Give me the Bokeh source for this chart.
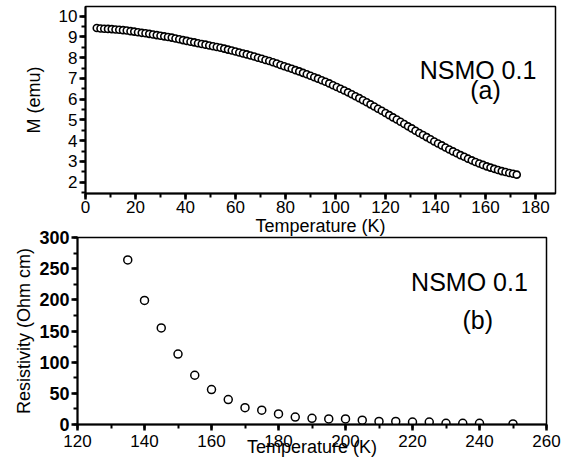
from bokeh.plotting import figure
from bokeh.models import Range1d, SingleIntervalTicker, Label
from bokeh.embed import file_html
from bokeh.resources import INLINE

# ---- panel (a): magnetisation vs temperature ----
temp_a = [4.5, 6, 7.5, 9, 10.5, 12, 13.5, 15, 16.5, 18, 19.5, 21, 22.5, 24, 25.5, 27, 28.5, 30,
          31.5, 33, 34.5, 36, 37.5, 39, 40.5, 42, 43.5, 45, 46.5, 48, 49.5, 51, 52.5, 54, 55.5,
          57, 58.5, 60, 61.5, 63, 64.5, 66, 67.5, 69, 70.5, 72, 73.5, 75, 76.5, 78, 79.5, 81,
          82.5, 84, 85.5, 87, 88.5, 90, 91.5, 93, 94.5, 96, 97.5, 99, 100.5, 102, 103.5, 105,
          106.5, 108, 109.5, 111, 112.5, 114, 115.5, 117, 118.5, 120, 121.5, 123, 124.5, 126,
          127.5, 129, 130.5, 132, 133.5, 135, 136.5, 138, 139.5, 141, 142.5, 144, 145.5, 147,
          148.5, 150, 151.5, 153, 154.5, 156, 157.5, 159, 160.5, 162, 163.5, 165, 166.5, 168,
          169.5, 171, 172.5]
mag_a = [9.43, 9.41, 9.40, 9.39, 9.38, 9.36, 9.35, 9.33, 9.31, 9.28, 9.26, 9.23, 9.20, 9.18,
         9.15, 9.12, 9.09, 9.06, 9.03, 9.00, 8.97, 8.93, 8.89, 8.85, 8.81, 8.77, 8.74, 8.70,
         8.66, 8.63, 8.59, 8.55, 8.52, 8.48, 8.44, 8.39, 8.35, 8.30, 8.25, 8.20, 8.16, 8.11,
         8.06, 8.00, 7.95, 7.89, 7.84, 7.78, 7.72, 7.65, 7.59, 7.53, 7.47, 7.40, 7.34, 7.27,
         7.20, 7.13, 7.06, 6.99, 6.91, 6.84, 6.76, 6.67, 6.59, 6.50, 6.42, 6.33, 6.24, 6.14,
         6.05, 5.95, 5.85, 5.75, 5.65, 5.54, 5.44, 5.33, 5.23, 5.12, 5.02, 4.91, 4.80, 4.69,
         4.59, 4.48, 4.37, 4.27, 4.17, 4.07, 3.96, 3.86, 3.77, 3.67, 3.57, 3.48, 3.39, 3.30,
         3.22, 3.13, 3.05, 2.97, 2.90, 2.83, 2.76, 2.70, 2.64, 2.58, 2.53, 2.49, 2.44, 2.40,
         2.36]

# ---- panel (b): resistivity vs temperature ----
temp_b = [135, 140, 145, 150, 155, 160, 165, 170, 175, 180, 185, 190, 195, 200, 205, 210,
          215, 220, 225, 230, 235, 240, 250]
res_b = [264, 199, 155, 113, 79, 56, 40, 27, 23, 17, 12, 10, 9, 9, 7, 5, 5, 4, 4, 2, 2, 2, 1]

label_main = "NSMO 0.1"
label_a = "(a)"
label_b = "(b)"
xlabel = "Temperature (K)"
ylabel_a = "M (emu)"
ylabel_b = "Resistivity (Ohm cm)"

FONT = "Liberation Sans"


def style(p, xint, yint, ylab_bold):
    p.grid.visible = False
    p.outline_line_color = "black"
    p.outline_line_width = 1.5
    p.outline_line_alpha = 1.0
    p.background_fill_color = "white"
    for ax in (p.xaxis[0], p.yaxis[0]):
        ax.axis_line_width = 2
        ax.axis_line_color = "black"
        ax.major_tick_line_width = 2.5
        ax.major_tick_line_color = "black"
        ax.minor_tick_line_width = 2
        ax.minor_tick_line_color = "black"
        ax.major_tick_out = 6
        ax.major_tick_in = 0
        ax.minor_tick_out = 4
        ax.minor_tick_in = 0
        ax.major_label_text_font = FONT
        ax.major_label_text_font_size = "17px"
        ax.major_label_text_color = "black"
        ax.axis_label_text_font = FONT
        ax.axis_label_text_font_size = "18px"
        ax.axis_label_text_font_style = "normal"
        ax.axis_label_text_color = "black"
    p.xaxis[0].ticker = SingleIntervalTicker(interval=xint, num_minor_ticks=2)
    p.yaxis[0].ticker = SingleIntervalTicker(interval=yint, num_minor_ticks=2)
    if ylab_bold:
        p.yaxis[0].major_label_text_font_style = "bold"
        p.yaxis[0].major_label_text_font_size = "18px"


p1 = figure(width=565, height=238, output_backend="svg", toolbar_location=None,
            x_range=Range1d(0, 188), y_range=Range1d(1.45, 10.47),
            min_border_left=85, min_border_right=10, min_border_top=6, min_border_bottom=10)
style(p1, 20, 1, False)
p1.border_fill_color = "white"
p1.xaxis[0].axis_label = xlabel
p1.yaxis[0].axis_label = ylabel_a
p1.xaxis[0].major_label_standoff = 1
p1.xaxis[0].axis_label_standoff = 0
p1.yaxis[0].major_label_standoff = 2
p1.yaxis[0].axis_label_standoff = 12
p1.scatter(temp_a, mag_a, marker="circle", size=7, fill_color="white",
           line_color="black", line_width=1.6)
p1.add_layout(Label(x=157, y=7.4, text=label_main, text_align="center", text_baseline="middle",
                    text_font=FONT, text_font_size="25px", text_color="black"))
p1.add_layout(Label(x=160, y=6.45, text=label_a, text_align="center", text_baseline="middle",
                    text_font=FONT, text_font_size="25px", text_color="black"))

p2 = figure(width=565, height=232, output_backend="svg", toolbar_location=None,
            x_range=Range1d(120, 260), y_range=Range1d(0, 300),
            min_border_left=77, min_border_right=19, min_border_top=10, min_border_bottom=10,
            styles={"margin-top": "-11px"})
style(p2, 20, 50, True)
p2.border_fill_alpha = 0.0
p2.xaxis[0].axis_label = xlabel
p2.yaxis[0].axis_label = ylabel_b
p2.xaxis[0].major_label_standoff = 4
p2.xaxis[0].axis_label_standoff = -13
p2.yaxis[0].major_label_standoff = 2
p2.yaxis[0].axis_label_standoff = 2
p2.scatter(temp_b, res_b, marker="circle", size=8, fill_color="white",
           line_color="black", line_width=1.5)
p2.add_layout(Label(x=237, y=228, text=label_main, text_align="center", text_baseline="middle",
                    text_font=FONT, text_font_size="25px", text_color="black"))
p2.add_layout(Label(x=239.5, y=168, text=label_b, text_align="center", text_baseline="middle",
                    text_font=FONT, text_font_size="25px", text_color="black"))

open("out.html", "w").write(file_html([p1, p2], INLINE))
